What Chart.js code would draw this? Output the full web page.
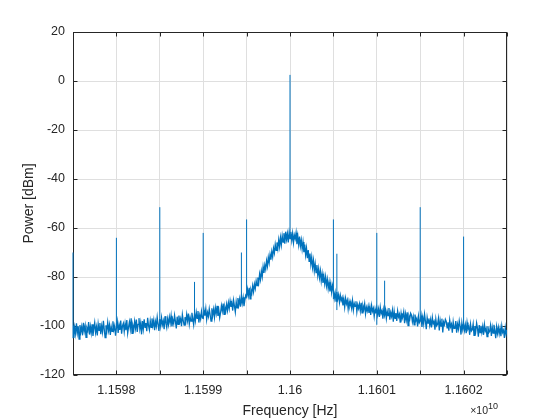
<!DOCTYPE html>
<html>
<head>
<meta charset="utf-8">
<script src="https://cdn.jsdelivr.net/npm/chart.js@4.4.1/dist/chart.umd.min.js"></script>
<style>
  html, body { margin: 0; padding: 0; background: #ffffff; }
  #wrap { width: 560px; height: 420px; }
</style>
</head>
<body>
<div id="wrap"><canvas id="spectrum" width="560" height="420"></canvas></div>
<script>
// Spectrum around the 11.6 GHz carrier (frequencies in MHz, power in dBm)
const fStartMHz = 11597.5;
const fStepMHz = 0.01;

// noise floor, one value per 0.01 MHz (10 per row = 0.1 MHz)
const noiseDbm = [
  -99.8, -104.9, -100.6, -103.2, -98.9, -102.8, -100.1, -105.3, -99.6, -102.4,
  -100.3, -103.8, -98.7, -102.1, -99.9, -104.6, -100.8, -101.9, -98.4, -103.5,
  -100.2, -102.9, -99.3, -104.1, -101.0, -98.6, -102.7, -100.4, -103.9, -99.1,
  -101.8, -98.8, -103.3, -100.0, -102.5, -97.9, -101.4, -104.7, -99.7, -102.0,
  -98.5, -101.9, -99.6, -103.6, -100.3, -102.2, -98.1, -101.5, -99.9, -104.0,
  -100.7, -98.2, -102.8, -99.5, -101.6, -97.8, -103.1, -100.0, -98.9, -102.3,
  -99.0, -101.7, -97.6, -102.9, -100.4, -98.3, -101.2, -96.9, -103.0, -99.8,
  -101.5, -98.1, -100.9, -97.4, -102.4, -99.3, -96.8, -101.1, -98.7, -103.4,
  -98.0, -101.2, -97.3, -100.6, -98.8, -102.1, -96.7, -99.9, -101.6, -97.9,
  -100.5, -96.9, -99.8, -97.6, -101.7, -98.2, -100.1, -96.4, -99.4, -102.0,
  -97.2, -100.1, -96.6, -99.5, -97.9, -101.3, -96.0, -98.8, -100.6, -97.1,
  -99.4, -96.3, -98.7, -95.8, -100.2, -97.5, -99.0, -95.6, -98.1, -101.0,
  -96.2, -99.3, -95.7, -98.4, -97.0, -100.1, -95.3, -97.8, -99.6, -96.4,
  -98.3, -95.2, -97.9, -94.9, -99.2, -96.5, -98.0, -94.6, -97.1, -99.5,
  -95.0, -97.8, -94.4, -96.9, -93.9, -98.6, -95.5, -97.2, -94.1, -96.7,
  -96.9, -93.6, -95.8, -92.9, -97.3, -94.5, -96.1, -93.0, -95.4, -98.0,
  -92.8, -95.6, -93.2, -96.4, -92.5, -94.9, -91.8, -95.9, -93.5, -96.7,
  -94.6, -91.7, -93.9, -90.8, -95.2, -92.3, -94.0, -91.1, -93.6, -90.5,
  -92.9, -89.8, -92.2, -90.4, -93.7, -89.5, -91.9, -94.3, -90.1, -92.6,
  -88.6, -91.4, -89.0, -92.1, -87.9, -90.7, -88.3, -91.9, -89.4, -87.5,
  -88.2, -85.1, -87.6, -84.4, -88.9, -85.3, -86.7, -83.6, -86.0, -82.9,
  -84.7, -81.6, -83.5, -80.2, -82.3, -78.8, -81.0, -77.6, -79.9, -75.8,
  -78.3, -75.1, -76.9, -73.4, -75.6, -72.0, -74.2, -70.8, -72.9, -69.6,
  -71.8, -68.3, -70.2, -66.7, -69.1, -65.9, -68.4, -64.8, -67.6, -63.9,
  -66.9, -63.2, -65.8, -62.1, -66.4, -61.5, -64.7, -62.3, -65.9, -61.8,
  -64.3, -61.6, -65.1, -62.2, -66.0, -62.9, -64.4, -61.9, -66.6, -63.3,
  -66.8, -63.5, -67.4, -64.9, -68.6, -65.7, -69.9, -66.8, -71.0, -68.2,
  -72.3, -69.0, -73.6, -70.4, -74.8, -71.9, -76.1, -73.2, -77.5, -74.6,
  -78.2, -75.1, -79.4, -76.6, -80.3, -77.5, -81.6, -78.7, -82.4, -79.6,
  -82.8, -79.9, -83.6, -81.0, -84.7, -82.1, -85.9, -82.8, -86.3, -83.5,
  -85.6, -88.7, -86.4, -89.8, -86.1, -89.0, -87.2, -90.3, -87.5, -89.6,
  -88.4, -91.6, -89.0, -92.3, -88.7, -90.9, -89.5, -93.1, -89.9, -91.8,
  -90.2, -92.7, -89.6, -93.5, -90.8, -92.0, -89.9, -94.2, -91.3, -92.9,
  -91.0, -93.8, -90.5, -94.6, -91.7, -93.2, -90.9, -95.0, -92.4, -93.9,
  -91.9, -94.7, -92.2, -95.5, -91.6, -94.0, -92.8, -96.1, -93.0, -94.9,
  -92.6, -95.4, -93.1, -96.3, -92.3, -94.8, -93.7, -97.0, -93.3, -95.6,
  -93.4, -96.9, -94.0, -95.8, -92.7, -97.4, -94.5, -96.1, -93.6, -98.2,
  -94.0, -96.9, -94.7, -97.9, -93.9, -96.3, -95.2, -98.6, -94.8, -97.3,
  -96.3, -94.2, -98.9, -95.1, -97.5, -94.4, -99.8, -95.9, -97.2, -94.8,
  -95.6, -98.3, -96.2, -99.5, -95.3, -97.8, -96.9, -100.2, -96.0, -98.7,
  -98.0, -95.7, -100.4, -96.6, -99.1, -95.2, -97.9, -101.3, -96.5, -98.8,
  -96.9, -99.7, -97.4, -100.6, -96.5, -99.0, -98.1, -101.5, -97.2, -99.9,
  -99.3, -96.9, -101.8, -97.7, -100.0, -97.0, -102.6, -98.4, -99.5, -97.3,
  -98.1, -100.8, -98.5, -101.9, -97.6, -100.3, -99.2, -102.7, -98.3, -101.0,
  -100.9, -98.0, -102.7, -99.3, -101.2, -97.9, -100.1, -103.5, -98.7, -101.4,
  -99.1, -101.8, -99.5, -102.9, -98.6, -101.2, -100.3, -103.6, -99.3, -102.0,
  -101.5, -99.2, -103.8, -100.0, -102.1, -98.8, -101.0, -104.4, -99.6, -102.7,
  -99.9, -102.6, -100.2, -103.6, -99.4, -102.0, -101.0, -104.3, -100.1, -102.8,
  -102.2, -99.8, -104.1, -100.5, -102.9, -99.5, -101.8, -105.0, -100.3, -103.0,
  -100.5, -103.2, -100.9, -104.2, -100.0, -102.6, -101.7, -104.9, -100.7, -103.4,
  -101.6
];

// discrete spurs and the carrier
const spurFreqMHz = [11597.5, 11598.0, 11598.5, 11598.9, 11599.0, 11599.44, 11599.5,
                     11600.0, 11600.5, 11600.54, 11601.0, 11601.09, 11601.5, 11602.0];
const spurPeakDbm = [-70, -64, -51.5, -82, -62, -70, -56.5,
                     2.5, -56.5, -70.5, -62, -81.5, -51.5, -63.5];
const spurBaseDbm = [-105, -101, -99, -96, -97, -90, -88,
                     -64, -89, -93.5, -99.5, -95, -98, -100];

const xTicksMin = 11597.5;
const xTicksMax = 11602.5;
const yTicksMin = -120;
const yTicksMax = 20;

const lineColor = '#0072BD';
const axisColor = '#262626';
const gridColor = '#dfdfdf';
const fontFamily = "Arial, 'Liberation Sans', Helvetica, sans-serif";

const noisePoints = noiseDbm.map((v, i) => ({ x: fStartMHz + i * fStepMHz, y: v }));
const spurPoints = [];
spurFreqMHz.forEach((f, i) => {
    spurPoints.push({ x: f, y: spurBaseDbm[i] });
    spurPoints.push({ x: f, y: spurPeakDbm[i] });
    spurPoints.push({ x: f, y: null });
});

// MATLAB-like box and inward ticks (under the data), then the x10^10 exponent
const axesBox = {
    id: 'axesBox',
    beforeDatasetsDraw(chart) {
        const { ctx, chartArea: a, scales } = chart;
        const L = Math.round(a.left) + 0.5, R = Math.round(a.right) - 0.5;
        const T = Math.round(a.top) + 0.5, B = Math.round(a.bottom) - 0.5;
        const tl = 4;
        ctx.save();
        ctx.strokeStyle = axisColor;
        ctx.lineWidth = 1;
        ctx.beginPath();
        scales.x.ticks.forEach(t => {
            const px = Math.round(scales.x.getPixelForValue(t.value)) + 0.5;
            ctx.moveTo(px, B); ctx.lineTo(px, B - tl);
            ctx.moveTo(px, T); ctx.lineTo(px, T + tl);
        });
        scales.y.ticks.forEach(t => {
            const py = Math.round(scales.y.getPixelForValue(t.value)) + 0.5;
            ctx.moveTo(L, py); ctx.lineTo(L + tl, py);
            ctx.moveTo(R, py); ctx.lineTo(R - tl, py);
        });
        ctx.stroke();
        ctx.strokeRect(L, T, R - L, B - T);
        ctx.restore();
    },
    afterDraw(chart) {
        const { ctx } = chart;
        ctx.save();
        ctx.fillStyle = axisColor;
        ctx.textBaseline = 'alphabetic';
        ctx.textAlign = 'right';
        ctx.font = '9px ' + fontFamily;
        const supW = ctx.measureText('10').width;
        ctx.fillText('10', 498, 409);
        ctx.font = '10.5px ' + fontFamily;
        ctx.fillText('\u00d710', 498 - supW, 414);
        ctx.restore();
    }
};

Chart.defaults.font.family = fontFamily;
Chart.defaults.color = axisColor;

new Chart(document.getElementById('spectrum').getContext('2d'), {
    type: 'line',
    data: {
        datasets: [
            {
                data: noisePoints,
                borderColor: lineColor,
                borderWidth: 1.3,
                pointRadius: 0,
                tension: 0
            },
            {
                data: spurPoints,
                borderColor: lineColor,
                borderWidth: 1,
                pointRadius: 0,
                tension: 0,
                spanGaps: false,
                clip: 2
            }
        ]
    },
    options: {
        responsive: false,
        animation: false,
        events: [],
        layout: { padding: { top: 32, right: 53, left: 0, bottom: 0 } },
        plugins: {
            legend: { display: false },
            tooltip: { enabled: false }
        },
        scales: {
            x: {
                type: 'linear',
                min: xTicksMin,
                max: xTicksMax,
                afterFit: s => { s.height = 45; },
                border: { display: false },
                grid: { color: gridColor, drawTicks: false },
                ticks: {
                    stepSize: 0.5,
                    padding: 8,
                    maxRotation: 0,
                    autoSkip: false,
                    font: { size: 12.5 },
                    callback: v => Math.abs(v - Math.round(v)) < 1e-6
                        ? String(parseFloat((v / 1e4).toFixed(5))) : ''
                },
                title: {
                    display: true,
                    text: 'Frequency [Hz]',
                    font: { size: 14 },
                    padding: { top: 0, bottom: 0 }
                }
            },
            y: {
                min: yTicksMin,
                max: yTicksMax,
                afterFit: s => { s.width = 73; },
                border: { display: false },
                grid: { color: gridColor, drawTicks: false },
                ticks: {
                    stepSize: 20,
                    padding: 8,
                    font: { size: 12.5 }
                },
                title: {
                    display: true,
                    text: 'Power [dBm]',
                    font: { size: 14 },
                    padding: { top: 21, bottom: 0 }
                }
            }
        }
    },
    plugins: [axesBox]
});
</script>
</body>
</html>
